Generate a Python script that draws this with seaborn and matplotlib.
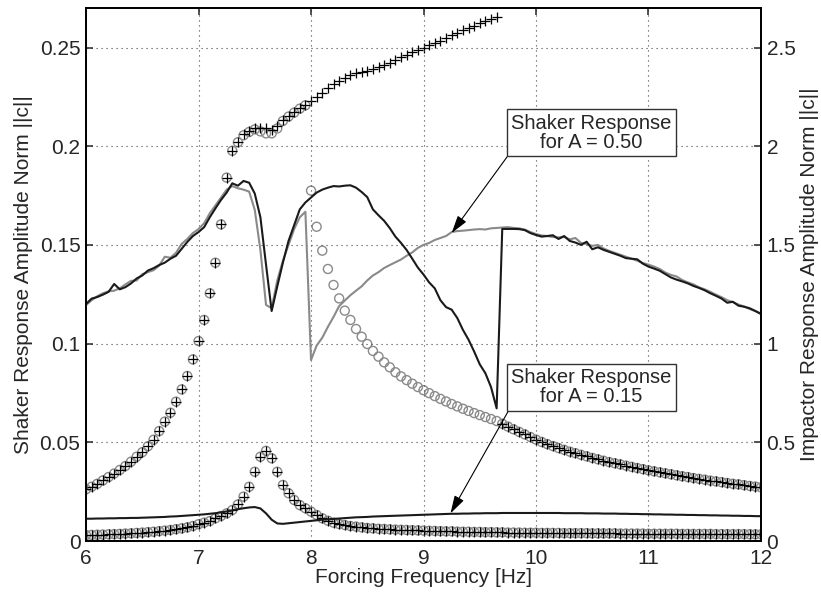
import numpy as np
import pandas as pd
import matplotlib
matplotlib.use("Agg")
import matplotlib.pyplot as plt
import seaborn as sns

# ---------------------------------------------------------------------------
# Data: forcing-frequency sweep (0.05 Hz steps) and measured amplitude norms
# ---------------------------------------------------------------------------
freq = np.round(np.linspace(6.0, 12.0, 121), 2)

# Shaker response, A = 0.50 (black = sweep up, gray = sweep down)
shaker_050_black = [
    0.1201, 0.1228, 0.1236, 0.1248, 0.1262, 0.1302, 0.1275, 0.1286, 0.1305, 0.1330,
    0.1345, 0.1370, 0.1382, 0.1398, 0.1410, 0.1430, 0.1445, 0.1480, 0.1515, 0.1545,
    0.1565, 0.1590, 0.1640, 0.1685, 0.1728, 0.1765, 0.1812, 0.1800, 0.1824, 0.1815,
    0.1760, 0.1640, 0.1400, 0.1165, 0.1290, 0.1410, 0.1520, 0.1600, 0.1680, 0.1715,
    0.1740, 0.1765, 0.1780, 0.1790, 0.1798, 0.1796, 0.1800, 0.1802, 0.1790, 0.1768,
    0.1742, 0.1680, 0.1650, 0.1622, 0.1585, 0.1542, 0.1510, 0.1474, 0.1430, 0.1385,
    0.1350, 0.1310, 0.1280, 0.1220, 0.1185, 0.1172, 0.1130, 0.1070, 0.1020, 0.0960,
    0.0895, 0.0850, 0.0780, 0.0672, 0.1581, 0.1581, 0.1581, 0.1580, 0.1575, 0.1560,
    0.1550, 0.1542, 0.1545, 0.1549, 0.1530, 0.1545, 0.1520, 0.1512, 0.1500, 0.1516,
    0.1478, 0.1488, 0.1475, 0.1465, 0.1455, 0.1445, 0.1433, 0.1430, 0.1427, 0.1405,
    0.1390, 0.1380, 0.1369, 0.1352, 0.1335, 0.1324, 0.1315, 0.1305, 0.1292, 0.1282,
    0.1270, 0.1255, 0.1242, 0.1228, 0.1207, 0.1212, 0.1192, 0.1187, 0.1179, 0.1165,
    0.1150,
]
shaker_050_gray = [
    0.1195, 0.1220, 0.1240, 0.1255, 0.1265, 0.1268, 0.1280, 0.1300, 0.1318, 0.1320,
    0.1352, 0.1362, 0.1372, 0.1395, 0.1440, 0.1435, 0.1460, 0.1505, 0.1530, 0.1560,
    0.1580, 0.1610, 0.1660, 0.1700, 0.1740, 0.1780, 0.1798, 0.1787, 0.1780, 0.1770,
    0.1677, 0.1474, 0.1196, 0.1179, 0.1320, 0.1420, 0.1500, 0.1580, 0.1640, 0.1668,
    0.0917, 0.0990, 0.1030, 0.1085, 0.1135, 0.1190, 0.1218, 0.1245, 0.1268, 0.1290,
    0.1320, 0.1345, 0.1362, 0.1383, 0.1398, 0.1412, 0.1426, 0.1445, 0.1462, 0.1485,
    0.1500, 0.1510, 0.1525, 0.1535, 0.1545, 0.1565, 0.1570, 0.1572, 0.1575, 0.1578,
    0.1580, 0.1578, 0.1584, 0.1586, 0.1588, 0.1590, 0.1586, 0.1584, 0.1578, 0.1565,
    0.1555, 0.1548, 0.1545, 0.1540, 0.1538, 0.1540, 0.1528, 0.1535, 0.1510, 0.1505,
    0.1495, 0.1500, 0.1482, 0.1470, 0.1460, 0.1450, 0.1440, 0.1430, 0.1420, 0.1408,
    0.1400, 0.1390, 0.1378, 0.1360, 0.1348, 0.1340, 0.1322, 0.1310, 0.1300, 0.1285,
    0.1275, 0.1262, 0.1248, 0.1235, 0.1220, 0.1210, 0.1198, 0.1188, 0.1175, 0.1165,
    0.1152,
]
# Shaker response, A = 0.15
shaker_015 = [
    0.0113, 0.0113, 0.0114, 0.0114, 0.0115, 0.0115, 0.0116, 0.0116, 0.0117, 0.0117,
    0.0118, 0.0119, 0.0120, 0.0121, 0.0122, 0.0124, 0.0125, 0.0127, 0.0129, 0.0131,
    0.0133, 0.0135, 0.0138, 0.0141, 0.0145, 0.0150, 0.0155, 0.0161, 0.0166, 0.0170,
    0.0172, 0.0165, 0.0140, 0.0108, 0.0089, 0.0087, 0.0090, 0.0093, 0.0096, 0.0099,
    0.0102, 0.0105, 0.0108, 0.0110, 0.0112, 0.0114, 0.0116, 0.0118, 0.0120, 0.0121,
    0.0122, 0.0124, 0.0125, 0.0126, 0.0127, 0.0128, 0.0129, 0.0130, 0.0131, 0.0132,
    0.0133, 0.0134, 0.0135, 0.0136, 0.0137, 0.0138, 0.0138, 0.0139, 0.0139, 0.0140,
    0.0140, 0.0141, 0.0141, 0.0141, 0.0142, 0.0142, 0.0142, 0.0142, 0.0142, 0.0142,
    0.0142, 0.0142, 0.0142, 0.0142, 0.0142, 0.0141, 0.0141, 0.0141, 0.0141, 0.0140,
    0.0140, 0.0140, 0.0139, 0.0139, 0.0139, 0.0138, 0.0138, 0.0137, 0.0137, 0.0136,
    0.0136, 0.0135, 0.0135, 0.0134, 0.0134, 0.0133, 0.0133, 0.0132, 0.0132, 0.0131,
    0.0131, 0.0130, 0.0130, 0.0129, 0.0129, 0.0128, 0.0128, 0.0127, 0.0127, 0.0126,
    0.0126,
]

# Impactor response, A = 0.15 (both solution methods coincide)
impactor_015 = [
    0.030, 0.031, 0.032, 0.033, 0.034, 0.035, 0.036, 0.038, 0.039, 0.041,
    0.043, 0.045, 0.047, 0.050, 0.053, 0.056, 0.060, 0.064, 0.069, 0.076,
    0.085, 0.093, 0.101, 0.115, 0.127, 0.140, 0.157, 0.185, 0.225, 0.275,
    0.351, 0.427, 0.457, 0.419, 0.351, 0.284, 0.242, 0.208, 0.182, 0.166,
    0.149, 0.132, 0.115, 0.103, 0.093, 0.086, 0.081, 0.076, 0.073, 0.069,
    0.066, 0.064, 0.062, 0.061, 0.059, 0.058, 0.057, 0.056, 0.055, 0.054,
    0.053, 0.052, 0.051, 0.050, 0.049, 0.049, 0.048, 0.047, 0.047, 0.046,
    0.046, 0.045, 0.045, 0.044, 0.044, 0.043, 0.043, 0.043, 0.042, 0.042,
    0.042, 0.041, 0.041, 0.041, 0.041, 0.040, 0.040, 0.040, 0.040, 0.040,
    0.039, 0.039, 0.039, 0.039, 0.039, 0.038, 0.038, 0.038, 0.038, 0.038,
    0.037, 0.037, 0.037, 0.037, 0.037, 0.037, 0.036, 0.036, 0.036, 0.036,
    0.036, 0.036, 0.035, 0.035, 0.035, 0.035, 0.035, 0.035, 0.034, 0.034,
    0.034,
]

# Impactor response, A = 0.50
# low branch before resonance, 6.00 - 7.25 Hz
impactor_050_low_left = [
    0.262, 0.275, 0.290, 0.307, 0.324, 0.342, 0.360, 0.380, 0.402, 0.427,
    0.450, 0.480, 0.513, 0.557, 0.605, 0.650, 0.706, 0.768, 0.836, 0.920,
    1.013, 1.120, 1.255, 1.410, 1.604, 1.841,
]
# high branch followed by the '+' solution, 7.30 - 9.65 Hz
impactor_050_high_plus = [
    1.977, 2.023, 2.060, 2.079, 2.094, 2.094, 2.091, 2.082, 2.102, 2.133,
    2.153, 2.172, 2.192, 2.209, 2.229, 2.251, 2.271, 2.293, 2.313, 2.330,
    2.347, 2.361, 2.371, 2.377, 2.383, 2.391, 2.400, 2.411, 2.423, 2.437,
    2.450, 2.462, 2.476, 2.487, 2.499, 2.513, 2.525, 2.535, 2.547, 2.562,
    2.575, 2.587, 2.598, 2.610, 2.622, 2.634, 2.644, 2.656,
]
# high branch followed by the 'o' solution, 7.30 - 7.95 Hz
impactor_050_high_circ = [
    1.977, 2.020, 2.055, 2.072, 2.085, 2.075, 2.065, 2.065, 2.090, 2.128,
    2.150, 2.170, 2.190, 2.207,
]
# 'o' solution after dropping to the low branch, 8.00 - 9.65 Hz
impactor_050_drop_circ = [
    1.775, 1.592, 1.471, 1.378, 1.297, 1.229, 1.167, 1.120, 1.074, 1.035,
    0.998, 0.963, 0.934, 0.905, 0.880, 0.855, 0.834, 0.815, 0.797, 0.780,
    0.764, 0.749, 0.734, 0.720, 0.707, 0.694, 0.682, 0.670, 0.659, 0.648,
    0.638, 0.628, 0.618, 0.608,
]
# low branch after resonance, 9.70 - 12.00 Hz
impactor_050_low_right = [
    0.594, 0.580, 0.566, 0.553, 0.540, 0.527, 0.514, 0.502, 0.491, 0.481,
    0.471, 0.462, 0.453, 0.445, 0.437, 0.429, 0.421, 0.414, 0.407, 0.400,
    0.394, 0.388, 0.382, 0.376, 0.370, 0.364, 0.358, 0.353, 0.348, 0.343,
    0.338, 0.333, 0.328, 0.324, 0.319, 0.315, 0.311, 0.306, 0.302, 0.298,
    0.294, 0.290, 0.287, 0.283, 0.279, 0.276, 0.272,
]

x_ticks = [6, 7, 8, 9, 10, 11, 12]
left_ticks = [0, 0.05, 0.1, 0.15, 0.2, 0.25]
left_tick_labels = ["0", "0.05", "0.1", "0.15", "0.2", "0.25"]
right_ticks = [0, 0.5, 1, 1.5, 2, 2.5]
right_tick_labels = ["0", "0.5", "1", "1.5", "2", "2.5"]

# ---------------------------------------------------------------------------
# Tables
# ---------------------------------------------------------------------------
lines = pd.DataFrame({
    "freq": freq,
    "black050": shaker_050_black,
    "gray050": shaker_050_gray,
    "black015": shaker_015,
})
plus050 = pd.DataFrame({
    "freq": freq,
    "amp": impactor_050_low_left + impactor_050_high_plus + impactor_050_low_right,
})
circ050 = pd.DataFrame({
    "freq": freq,
    "amp": impactor_050_low_left + impactor_050_high_circ
    + impactor_050_drop_circ + impactor_050_low_right,
})
imp015 = pd.DataFrame({"freq": freq, "amp": impactor_015})

# ---------------------------------------------------------------------------
# Figure
# ---------------------------------------------------------------------------
sns.set_style("white")
plt.rcParams["font.family"] = ["Liberation Sans", "DejaVu Sans"]
plt.rcParams["axes.linewidth"] = 1.3

fig = plt.figure(figsize=(8.21, 5.94), dpi=100)
ax = fig.add_axes([0.1048, 0.0892, 0.8221, 0.8973])
ax2 = ax.twinx()

FS = 15
FS_BOX = 14.5
GRAY = "#8a8a8a"

# shaker curves (left axis)
sns.lineplot(data=lines, x="freq", y="gray050", ax=ax, color=GRAY,
             linewidth=1.5, estimator=None, sort=False)
sns.lineplot(data=lines, x="freq", y="black050", ax=ax, color="#1a1a1a",
             linewidth=1.5, estimator=None, sort=False)
sns.lineplot(data=lines, x="freq", y="black015", ax=ax, color="#1a1a1a",
             linewidth=1.5, estimator=None, sort=False)

# impactor curves (right axis)
for df in (circ050, imp015):
    sns.scatterplot(data=df, x="freq", y="amp", ax=ax2, marker="o", s=42,
                    facecolors="none", edgecolors=GRAY, linewidths=1.0,
                    legend=False, zorder=3)
for df in (plus050, imp015):
    sns.scatterplot(data=df, x="freq", y="amp", ax=ax2, marker="+", s=60,
                    color="black", linewidths=0.9, legend=False, zorder=4)

# axes ranges and ticks
ax.set_xlim(6, 12)
ax.set_ylim(0, 0.27)
ax2.set_ylim(0, 2.7)
ax.set_xticks(x_ticks)
ax.set_xticklabels([str(t) for t in x_ticks], fontsize=FS)
ax.set_yticks(left_ticks)
ax.set_yticklabels(left_tick_labels, fontsize=FS)
ax2.set_yticks(right_ticks)
ax2.set_yticklabels(right_tick_labels, fontsize=FS)

ax.tick_params(axis="both", direction="in", length=5, width=1.1,
               top=True, right=False, pad=4)
ax2.tick_params(axis="y", direction="in", length=5, width=1.1, pad=4)
ax.tick_params(axis="x", pad=6)

ax.grid(True, linestyle=(0, (1, 3.5)), color="#444444", linewidth=0.8)
ax.set_axisbelow(True)
for a in (ax, ax2):
    for sp in a.spines.values():
        sp.set_color("black")
        sp.set_linewidth(1.3)

ax.set_xlabel("Forcing Frequency [Hz]", fontsize=FS, labelpad=0)
ax.set_ylabel("Shaker Response Amplitude Norm ||c||", fontsize=FS, labelpad=5)
ax2.set_ylabel("Impactor Response Amplitude Norm ||c||", fontsize=FS,
               labelpad=3, rotation=90)

# annotation boxes
box = dict(boxstyle="square,pad=0.22", facecolor="white",
           edgecolor="#333333", linewidth=1.0)
arrow = dict(arrowstyle="-|>,head_length=0.75,head_width=0.22",
             color="black", linewidth=0.8, relpos=(0, 0), shrinkA=0, shrinkB=0)

ax.annotate("Shaker Response\nfor A = 0.50", xy=(9.25, 0.1560),
            xytext=(10.49, 0.2069), textcoords="data", ha="center",
            va="center", multialignment="center", fontsize=FS_BOX, bbox=box,
            arrowprops=arrow, zorder=10, linespacing=1.0)
ax.annotate("Shaker Response\nfor A = 0.15", xy=(9.24, 0.0140),
            xytext=(10.49, 0.0778), textcoords="data", ha="center",
            va="center", multialignment="center", fontsize=FS_BOX, bbox=box,
            arrowprops=arrow, zorder=10, linespacing=1.0)

ax.set_zorder(ax2.get_zorder() + 1)
ax.patch.set_visible(False)

fig.savefig("out.png", dpi=100)
